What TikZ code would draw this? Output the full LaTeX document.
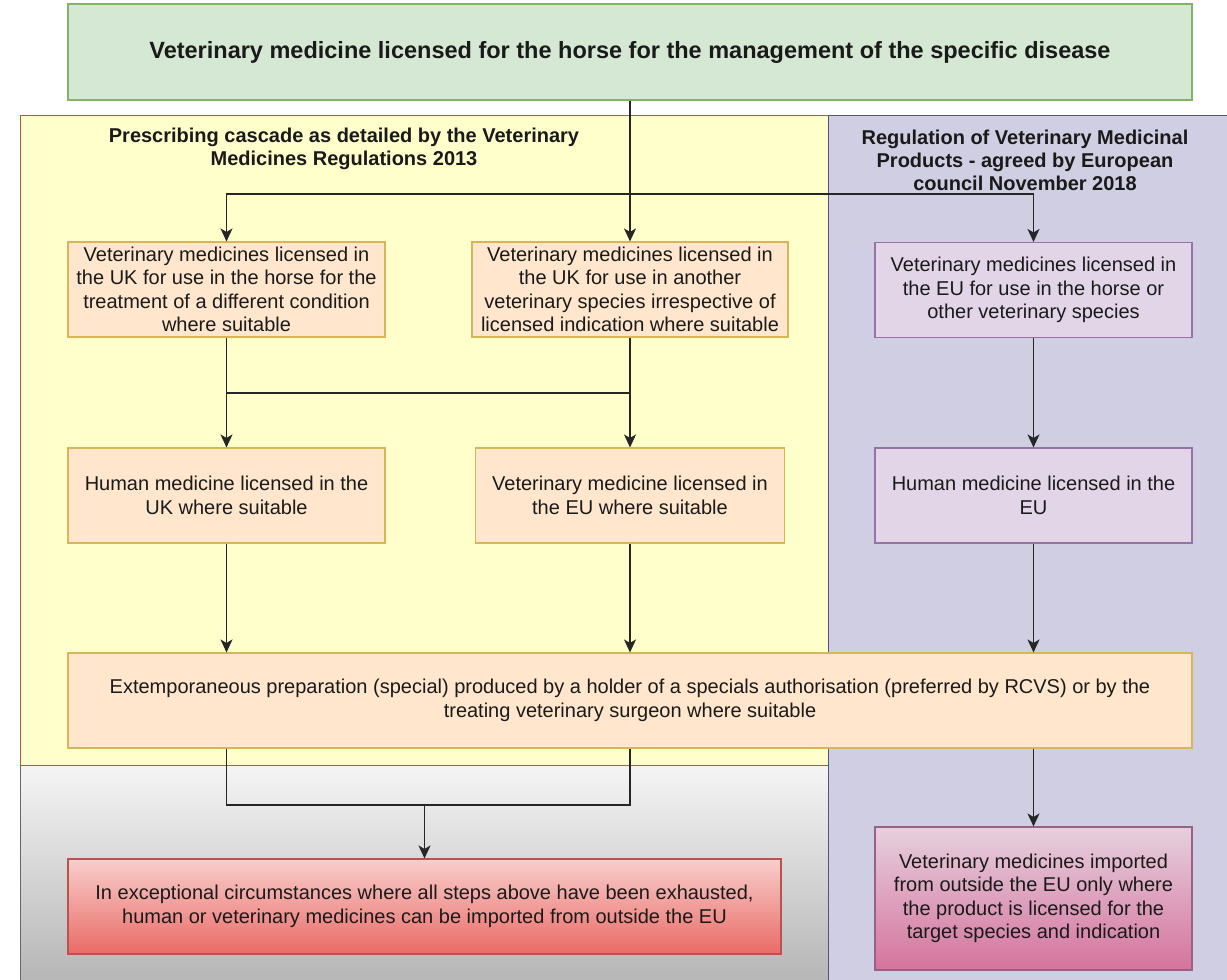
\documentclass[tikz,border=0pt]{standalone}
\usepackage{fontspec}
\setmainfont{Liberation Sans}
\usetikzlibrary{arrows.meta}
\definecolor{gfill}{HTML}{D5E8D4}\definecolor{gline}{HTML}{82B366}
\definecolor{yfill}{HTML}{FFFFCC}\definecolor{yline}{HTML}{B85450}
\definecolor{pregfill}{HTML}{D0CEE2}\definecolor{pregline}{HTML}{56517E}
\definecolor{ofill}{HTML}{FFE6CC}\definecolor{oline}{HTML}{D6B656}
\definecolor{pfill}{HTML}{E1D5E7}\definecolor{pline}{HTML}{9673A6}
\definecolor{grtop}{HTML}{F5F5F5}\definecolor{grbot}{HTML}{B3B3B3}\definecolor{grline}{HTML}{666666}
\definecolor{rtop}{HTML}{F8CECC}\definecolor{rbot}{HTML}{EA6B66}\definecolor{rline}{HTML}{B85450}
\definecolor{pktop}{HTML}{E6D0DE}\definecolor{pkbot}{HTML}{D5739D}\definecolor{pkline}{HTML}{996185}
\definecolor{txt}{HTML}{1A1A1A}
\newcommand{\bodyfont}{\fontsize{20}{23.5}\selectfont}
\newcommand{\headfont}{\fontsize{20}{23}\selectfont\bfseries}
\newcommand{\titlefont}{\fontsize{23.5}{28}\selectfont\bfseries}
\tikzset{
  basebox/.style={draw, line width=1.1pt, align=center, inner sep=0pt, text=txt, font=\bodyfont},
  obox/.style={basebox, fill=ofill, draw=oline},
  pbox/.style={basebox, fill=pfill, draw=pline},
  heading/.style={align=center, inner sep=0pt, text=txt, font=\headfont},
  conn/.style={line width=1.6pt, draw=black!85},
  arr/.style={conn, -{Stealth[length=13pt,width=12pt,inset=3.5pt]}},
}
\begin{document}
\begin{tikzpicture}[x=1pt,y=-1pt]
\useasboundingbox (0,0) rectangle (1227,980);
\clip (0,0) rectangle (1227,980);
\fill[white] (0,0) rectangle (1227,980);
% regions
\path[draw=grline, line width=1pt, top color=grtop, bottom color=grbot] (20,765) rectangle (828,990);
\path[draw=yline, line width=1pt, fill=yfill] (20,115) rectangle (828,765);
\path[draw=pregline, line width=1pt, fill=pregfill] (828,115) rectangle (1240,990);
\node[heading] (h1) at (344,148.5) {Prescribing cascade as detailed by the Veterinary\\Medicines Regulations 2013};
\node[heading] (h2) at (1025,160) {Regulation of Veterinary Medicinal\\Products - agreed by European\\council November 2018};
% top box
\node[basebox, fill=gfill, draw=gline, minimum width=1124pt, minimum height=96pt, font=\titlefont] (top) at (630,52)
  {Veterinary medicine licensed for the horse for the management of the specific disease};
% cascade boxes
\node[obox, minimum width=317pt, minimum height=95pt] (A1) at (226.5,289.5)
  {Veterinary medicines licensed in\\the UK for use in the horse for the\\treatment of a different condition\\where suitable};
\node[obox, minimum width=316pt, minimum height=95pt] (A2) at (630,289.5)
  {Veterinary medicines licensed in\\the UK for use in another\\veterinary species irrespective of\\licensed indication where suitable};
\node[pbox, minimum width=317pt, minimum height=95pt] (P1) at (1033.5,290)
  {Veterinary medicines licensed in\\the EU for use in the horse or\\other veterinary species};
\node[obox, minimum width=317pt, minimum height=95pt] (B1) at (226.5,495.5)
  {Human medicine licensed in the\\UK where suitable};
\node[obox, minimum width=309pt, minimum height=95pt] (B2) at (630,495.5)
  {Veterinary medicine licensed in\\the EU where suitable};
\node[pbox, minimum width=317pt, minimum height=95pt] (P2) at (1033.5,495.5)
  {Human medicine licensed in the\\EU};
\node[obox, minimum width=1124pt, minimum height=95pt] (C) at (630,700.5)
  {Extemporaneous preparation (special) produced by a holder of a specials authorisation (preferred by RCVS) or by the\\treating veterinary surgeon where suitable};
\node[basebox, draw=rline, top color=rtop, bottom color=rbot, minimum width=713pt, minimum height=95pt] (D1) at (424.5,906.5)
  {In exceptional circumstances where all steps above have been exhausted,\\human or veterinary medicines can be imported from outside the EU};
\node[basebox, draw=pkline, top color=pktop, bottom color=pkbot, minimum width=317pt, minimum height=143pt] (P3) at (1033.5,898.5)
  {Veterinary medicines imported\\from outside the EU only where\\the product is licensed for the\\target species and indication};
% connectors
\coordinate (j1) at (630,194);
\draw[arr] (top.south -| A2.north) -- (A2.north);
\draw[arr] (j1) -| (A1.north);
\draw[arr] (j1) -| (P1.north);
\coordinate (j2) at (226.5,393);
\coordinate (j3) at (630,393);
\draw[conn] (A1.south) -- (j2) -- (j3);
\draw[conn] (A2.south) -- (j3);
\draw[arr] (j2) -- (B1.north);
\draw[arr] (j3) -- (B2.north);
\draw[arr] (P1.south) -- (P2.north);
\draw[arr] (B1.south) -- (C.north -| B1.south);
\draw[arr] (B2.south) -- (C.north -| B2.south);
\draw[arr] (P2.south) -- (C.north -| P2.south);
\draw[arr] (C.south -| P3.north) -- (P3.north);
\coordinate (k1) at (226.5,805);
\coordinate (k2) at (630,805);
\coordinate (k3) at (424.5,805);
\draw[conn] (C.south -| k1) -- (k1) -- (k2) -- (C.south -| k2);
\draw[arr] (k3) -- (D1.north);
\end{tikzpicture}
\end{document}
